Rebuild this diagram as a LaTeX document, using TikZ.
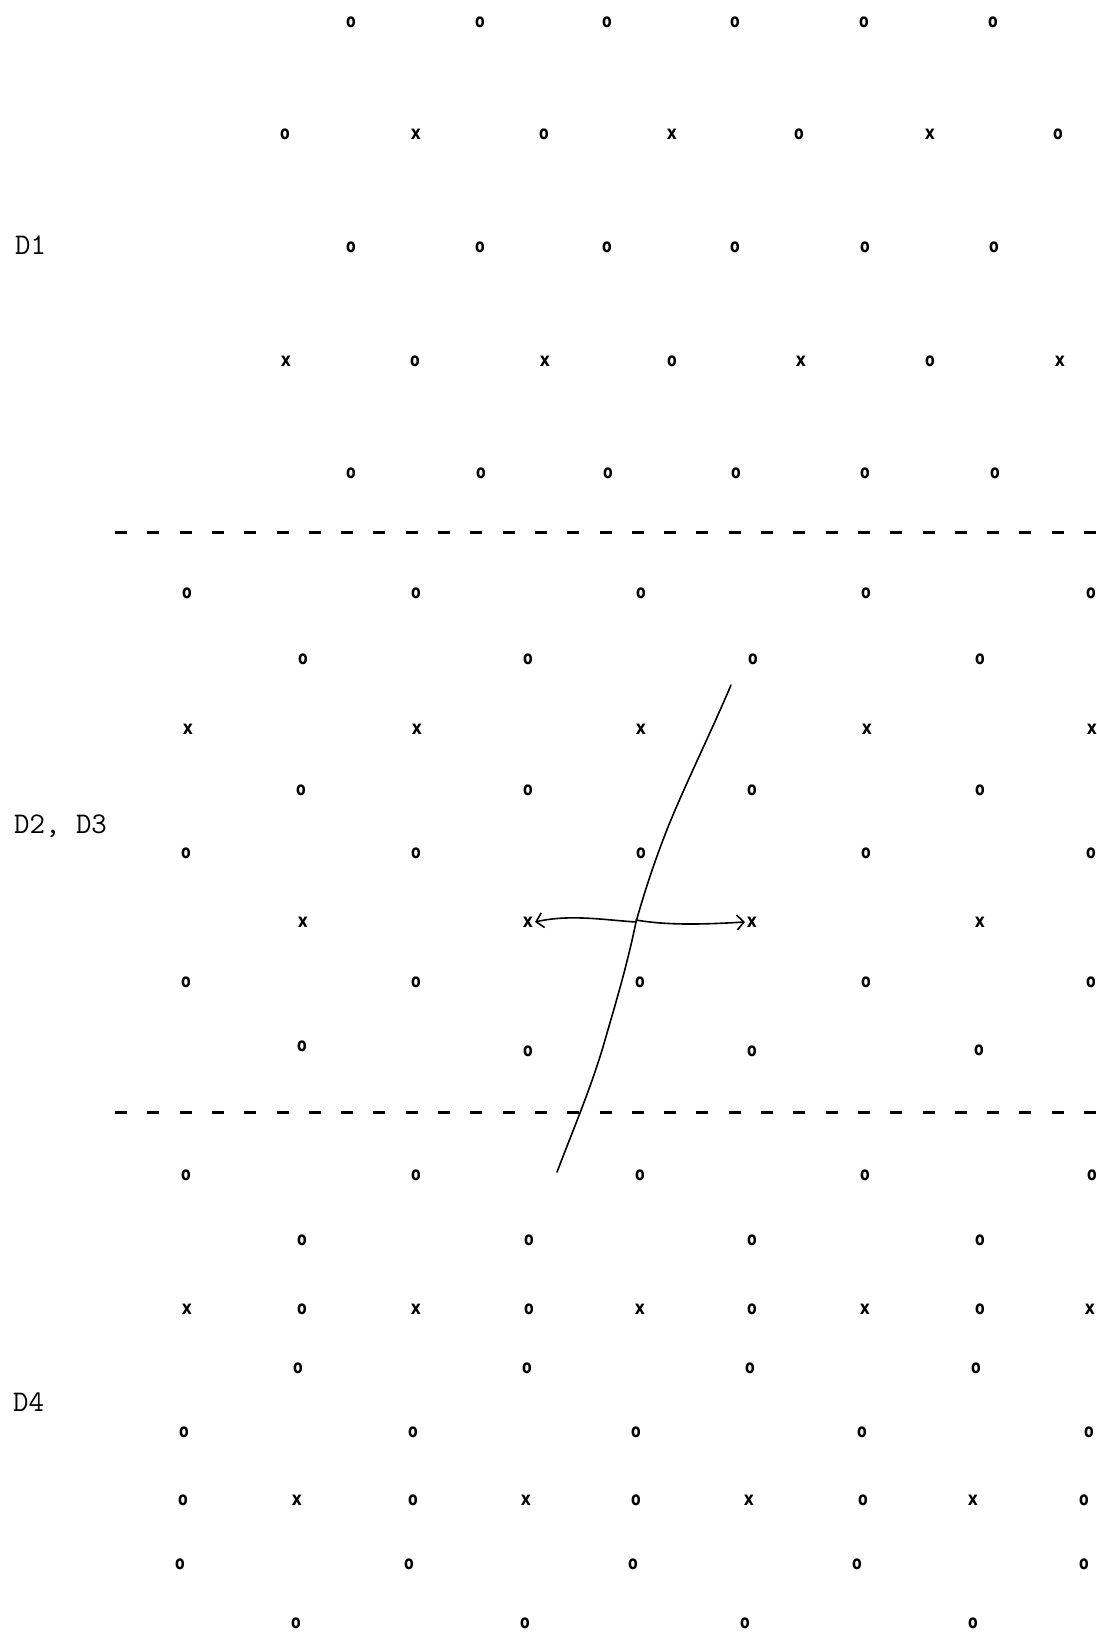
\documentclass[tikz,border=0pt]{standalone}
\usepackage{fontspec}
\usepackage{graphicx}
\usetikzlibrary{arrows.meta}
\newfontfamily\sitefont{DejaVu Sans}
\newcommand\siteo{\scalebox{0.74}[1]{o}}
\newcommand\sitex{\scalebox{0.82}[1]{x}}
\begin{document}
\begin{tikzpicture}[x=1pt,y=-1pt,
  site/.style={inner sep=0pt, outer sep=0pt, font=\sitefont\bfseries\fontsize{19}{19}\selectfont},
  lab/.style={inner sep=0pt, anchor=west, font=\ttfamily\fontsize{30}{36}\selectfont},
  sepline/.style={line width=3pt, dash pattern=on 12pt off 20.3pt},
  pen/.style={line width=1.6pt, line cap=round, line join=round}]
\useasboundingbox[fill=white] (0,0) rectangle (1096,1632);

% ---------- D1 ----------
\foreach \x [count=\i] in {351,480,607,735,864,993}
  \node[site] (p1-\i) at (\x,22) {\siteo};
\foreach \x/\t [count=\i] in {285/o,416/x,544/o,672/x,799/o,930/x,1058/o}
  \node[site] (p2-\i) at (\x,134) {\csname site\t\endcsname};
\foreach \x [count=\i] in {351,480,607,735,865,994}
  \node[site] (p3-\i) at (\x,247) {\siteo};
\foreach \x/\t [count=\i] in {286/x,415/o,545/x,672/o,801/x,930/o,1060/x}
  \node[site] (p4-\i) at (\x,361) {\csname site\t\endcsname};
\foreach \x [count=\i] in {351,481,608,736,865,995}
  \node[site] (p5-\i) at (\x,473) {\siteo};
\node[lab] (labA) at (15,245) {D1};

\coordinate (s1a) at (115,532);
\coordinate (s1b) at (1096,532);
\draw[sepline] (s1a) -- (s1b);

% ---------- D2, D3 ----------
\foreach \x [count=\i] in {187,416,641,866,1091}
  \node[site] (qA-\i) at (\x,593) {\siteo};
\foreach \x [count=\i] in {303,528,753,980}
  \node[site] (qB-\i) at (\x,659) {\siteo};
\foreach \x [count=\i] in {188,417,641,867,1092}
  \node[site] (qC-\i) at (\x,729) {\sitex};
\foreach \x [count=\i] in {301,528,752,980}
  \node[site] (qD-\i) at (\x,790) {\siteo};
\foreach \x [count=\i] in {186,416,641,866,1091}
  \node[site] (qE-\i) at (\x,853) {\siteo};
\foreach \x [count=\i] in {303,528,752,980}
  \node[site] (qF-\i) at (\x,922) {\sitex};
\foreach \x [count=\i] in {186,416,640,866,1091}
  \node[site] (qG-\i) at (\x,982) {\siteo};
\foreach \x/\y [count=\i] in {302/1046,528/1051,752/1051,979/1050}
  \node[site] (qH-\i) at (\x,\y) {\siteo};
\node[lab] (labB) at (14,826) {D2, D3};

\coordinate (s2a) at (115,1112);
\coordinate (s2b) at (1096,1112);
\draw[sepline] (s2a) -- (s2b);

% ---------- D4 ----------
\foreach \x [count=\i] in {186,416,640,865,1092}
  \node[site] (r1-\i) at (\x,1175) {\siteo};
\foreach \x [count=\i] in {302,529,752,980}
  \node[site] (r2-\i) at (\x,1240) {\siteo};
\foreach \x/\t [count=\i] in {187/x,302/o,416/x,529/o,640/x,752/o,865/x,980/o,1090/x}
  \node[site] (r3-\i) at (\x,1309) {\csname site\t\endcsname};
\foreach \x [count=\i] in {298,527,750,976}
  \node[site] (r4-\i) at (\x,1368) {\siteo};
\foreach \x [count=\i] in {184,413,636,862,1089}
  \node[site] (r5-\i) at (\x,1432) {\siteo};
\foreach \x/\t [count=\i] in {183/o,297/x,413/o,526/x,636/o,749/x,863/o,973/x,1084/o}
  \node[site] (r6-\i) at (\x,1500) {\csname site\t\endcsname};
\foreach \x [count=\i] in {180,409,633,857,1084}
  \node[site] (r7-\i) at (\x,1564) {\siteo};
\foreach \x [count=\i] in {296,525,745,973}
  \node[site] (r8-\i) at (\x,1623) {\siteo};
\node[lab] (labC) at (13,1402) {D4};

% ---------- hand-drawn marks ----------
\coordinate (c0) at (731,685);
\coordinate (c1) at (668,827);
\coordinate (mid) at (636,922);
\coordinate (c2) at (603,1047);
\coordinate (c3) at (557,1172);
\draw[pen] (c0) .. controls (712,730) and (685,785) .. (c1)
  .. controls (655,860) and (645,890) .. (mid)
  .. controls (626,970) and (615,1005) .. (c2)
  .. controls (590,1090) and (575,1125) .. (c3);

\draw[pen, -{Straight Barb[length=7pt,width=15pt]}] (mid)
  .. controls (605,920) and (570,914) .. ([xshift=2pt]qF-2.east);
\draw[pen, -{Straight Barb[length=7pt,width=15pt]}] ([yshift=2pt]mid)
  .. controls (670,926) and (710,924) .. ([xshift=-2pt]qF-3.west);
\end{tikzpicture}
\end{document}
